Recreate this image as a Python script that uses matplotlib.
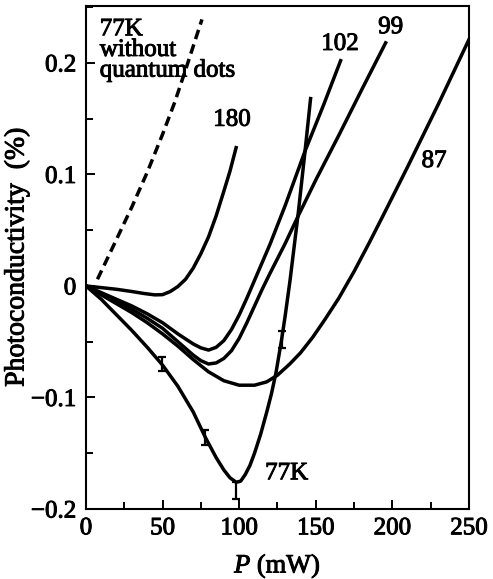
import numpy as np
import matplotlib
matplotlib.use("Agg")
import matplotlib.pyplot as plt
import matplotlib.patheffects as pe
from matplotlib.ticker import MultipleLocator

plt.rcParams['font.family'] = ['Liberation Serif', 'DejaVu Serif']
plt.rcParams['mathtext.fontset'] = 'custom'
plt.rcParams['mathtext.it'] = 'Liberation Serif:italic'
plt.rcParams['mathtext.rm'] = 'Liberation Serif'

# 77K reference sample, without quantum dots (dashed)
x_ref = [7.5, 20, 30, 40, 50, 58, 66, 75.7]
y_ref = [0.006, 0.042, 0.071, 0.102, 0.136, 0.165, 0.198, 0.239]

# 180 K
x_180 = [0, 10, 20, 30, 38, 45, 50, 55, 60, 65, 70, 75, 80, 85, 90, 94, 98]
y_180 = [0, -0.0015, -0.003, -0.005, -0.0068, -0.008, -0.0078, -0.005, -0.0005, 0.006, 0.016, 0.029,
         0.044, 0.063, 0.085, 0.103, 0.124]

# 102 K
x_102 = [0, 10, 20, 30, 40, 50, 60, 70, 75, 80, 85, 90, 95, 100, 105, 110, 120, 130, 143, 155, 166.2]
y_102 = [0, -0.006, -0.012, -0.018, -0.025, -0.033, -0.043, -0.052, -0.0555, -0.0575, -0.055, -0.049,
         -0.039, -0.026, -0.011, 0.005, 0.037, 0.072, 0.121, 0.162, 0.202]

# 99 K
x_99 = [0, 10, 20, 30, 40, 50, 60, 70, 75, 80, 85, 90, 95, 100, 105, 110, 115, 120, 130, 138.6, 150, 165,
        180, 195.6]
y_99 = [0, -0.007, -0.014, -0.021, -0.029, -0.038, -0.050, -0.062, -0.067, -0.070, -0.069, -0.065, -0.058,
        -0.047, -0.033, -0.018, -0.003, 0.011, 0.038, 0.063, 0.095, 0.135, 0.176, 0.218]

# 87 K
x_87 = [0, 10, 20, 30, 40, 50, 60, 70, 80, 90, 100, 110, 118, 125, 133, 140, 148, 156, 165, 175, 185,
        195, 210, 230, 250]
y_87 = [0, -0.008, -0.016, -0.024, -0.033, -0.043, -0.054, -0.066, -0.077, -0.085, -0.089, -0.089, -0.086,
        -0.080, -0.070, -0.060, -0.046, -0.030, -0.011, 0.013, 0.039, 0.066, 0.107, 0.163, 0.221]

# 77 K
x_77 = [0, 10, 20, 30, 40, 50, 60, 70, 78, 85, 90, 94, 98, 101, 104, 107, 110, 114, 118, 121, 124, 127.7,
        130, 133.2, 138.6, 143, 146.6]
y_77 = [0, -0.012, -0.026, -0.040, -0.055, -0.071, -0.090, -0.113, -0.136, -0.154, -0.165, -0.172, -0.176,
        -0.175, -0.169, -0.161, -0.150, -0.133, -0.113, -0.097, -0.078, -0.048, -0.027, 0.005, 0.066,
        0.121, 0.168]

# error bars on the 77 K curve
x_err = [49.4, 78, 98, 127.7]
y_err = [-0.070, -0.136, -0.176, -0.048]
err_lo = [0.006, 0.007, 0.015, 0.008]
err_hi = [0.006, 0.007, 0.0, 0.008]

fig = plt.figure(figsize=(4.93, 5.79), dpi=100)
ax = fig.add_axes([0.1744, 0.1209, 0.7769, 0.8687])

lw = 2.5
ax.plot(x_ref, y_ref, color='black', lw=lw, dashes=(2.8, 1.6))
ax.plot(x_180, y_180, color='black', lw=lw)
ax.plot(x_102, y_102, color='black', lw=lw)
ax.plot(x_99, y_99, color='black', lw=lw)
ax.plot(x_87, y_87, color='black', lw=lw)
ax.plot(x_77, y_77, color='black', lw=lw)
ax.errorbar(x_err, y_err, yerr=[err_lo, err_hi], fmt='none', ecolor='black', elinewidth=1.6, capsize=3,
            capthick=1.6)

# scanned print looks a bit heavier than plain Times
heavy = [pe.withStroke(linewidth=0.7, foreground='black')]

fs = 18
texts = [
    ax.text(9, 0.240, "77K\nwithout\nquantum dots", fontsize=fs, ha='left', va='top', linespacing=0.92),
    ax.text(95.3, 0.149, "180", fontsize=fs, ha='center', va='center'),
    ax.text(165.8, 0.217, "102", fontsize=fs, ha='center', va='center'),
    ax.text(198.8, 0.232, "99", fontsize=fs, ha='center', va='center'),
    ax.text(227.2, 0.112, "87", fontsize=fs, ha='center', va='center'),
    ax.text(131, -0.168, "77K", fontsize=fs, ha='center', va='center'),
]

ax.set_xlim(0, 250)
ax.set_ylim(-0.2, 0.251)
ax.set_xticks([0, 50, 100, 150, 200, 250])
ax.set_yticks([-0.2, -0.1, 0, 0.1, 0.2], ["\u22120.2", "\u22120.1", "0", "0.1", "0.2"])
ax.xaxis.set_minor_locator(MultipleLocator(25))
ax.yaxis.set_minor_locator(MultipleLocator(0.05))
ax.tick_params(which='both', direction='in', top=False, right=False, width=1.4, labelsize=fs)
ax.tick_params(which='major', length=6.5)
ax.tick_params(which='minor', length=5)
ax.tick_params(axis='x', pad=6)
ax.tick_params(axis='y', pad=7)
for s in ax.spines.values():
    s.set_linewidth(1.5)

xl = ax.set_xlabel(r"$P$ (mW)", fontsize=19, labelpad=10)
yl = ax.set_ylabel("Photoconductivity  (%)", fontsize=20, labelpad=1)

for t in texts + [xl, yl] + ax.get_xticklabels() + ax.get_yticklabels():
    t.set_path_effects(heavy)

fig.savefig("out.png", dpi=100)
